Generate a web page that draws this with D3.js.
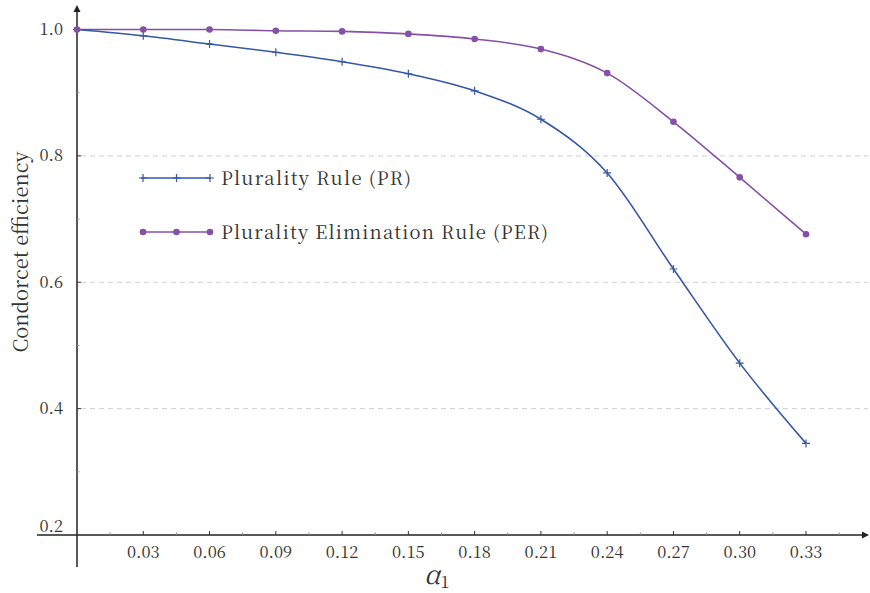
<!DOCTYPE html>
<html><head><meta charset="utf-8">
<script src="https://cdn.jsdelivr.net/npm/d3@7"></script>
<style>body{margin:0;background:#fff}svg{display:block}</style>
</head><body><svg id="c" width="870" height="593"></svg>
<script>
const alphas = [0, 0.03, 0.06, 0.09, 0.12, 0.15, 0.18, 0.21, 0.24, 0.27, 0.30, 0.33];
const prValues = [1.0, 0.990, 0.977, 0.964, 0.949, 0.930, 0.903, 0.858, 0.773, 0.621, 0.472, 0.345];
const perValues = [1.0, 1.0, 1.0, 0.998, 0.997, 0.993, 0.985, 0.969, 0.931, 0.854, 0.766, 0.676];
const xTicks = [0.03, 0.06, 0.09, 0.12, 0.15, 0.18, 0.21, 0.24, 0.27, 0.30, 0.33];
const xMinorTicks = [0.015, 0.045, 0.075, 0.105, 0.135, 0.165, 0.195, 0.225, 0.255, 0.285, 0.315, 0.345];
const yTicks = [0.2, 0.4, 0.6, 0.8, 1.0];
const yMinorTicks = [0.3, 0.5, 0.7, 0.9];
const seriesNames = ["Plurality Rule (PR)", "Plurality Elimination Rule (PER)"];

const blue = "#3557a8", purple = "#8550a6";
const FONT = '"Noto Serif CJK SC", "Liberation Serif", serif';
const svg = d3.select("#c");
const x = d3.scaleLinear().domain([0, 0.33]).range([77, 806]);
const y = d3.scaleLinear().domain([0.2, 1.0]).range([535, 29.5]);

// grid
svg.append("g").selectAll("line").data(yTicks.filter(d => d > 0.2 && d < 1.0)).join("line")
  .attr("x1", 81).attr("x2", 868).attr("y1", d => y(d)).attr("y2", d => y(d))
  .attr("stroke", "#d0d0d0").attr("stroke-dasharray", "5,4").attr("stroke-width", 1);

// x axis line
svg.append("line").attr("x1", 37).attr("x2", 864).attr("y1", y(0.2)).attr("y2", y(0.2))
  .attr("stroke", "#222").attr("stroke-width", 1.5);
svg.append("path").attr("d", `M869,${y(0.2)} L862,${y(0.2)-3.5} L862,${y(0.2)+3.5} Z`).attr("fill", "#222");
// y axis line
svg.append("line").attr("x1", x(0)).attr("x2", x(0)).attr("y1", 10).attr("y2", 567)
  .attr("stroke", "#222").attr("stroke-width", 1.5);
svg.append("path").attr("d", `M${x(0)},5 L${x(0)-3.5},12 L${x(0)+3.5},12 Z`).attr("fill", "#222");

// x ticks
svg.append("g").selectAll("line").data(xTicks).join("line")
  .attr("x1", d => x(d)).attr("x2", d => x(d)).attr("y1", y(0.2) - 4).attr("y2", y(0.2))
  .attr("stroke", "#333").attr("stroke-width", 1);
svg.append("g").selectAll("line").data(xMinorTicks).join("line")
  .attr("x1", d => x(d)).attr("x2", d => x(d)).attr("y1", y(0.2) - 2.5).attr("y2", y(0.2))
  .attr("stroke", "#888").attr("stroke-width", 1);
svg.append("g").selectAll("text").data(xTicks).join("text")
  .attr("x", d => x(d)).attr("y", y(0.2) + 23).attr("text-anchor", "middle")
  .style("font-family", FONT).attr("font-size", 16.5).attr("fill", "#333")
  .text(d => d.toFixed(2));

// y ticks
svg.append("g").selectAll("line").data(yTicks.filter(d => d > 0.2)).join("line")
  .attr("x1", x(0)).attr("x2", x(0) + 4).attr("y1", d => y(d)).attr("y2", d => y(d))
  .attr("stroke", "#333").attr("stroke-width", 1);
svg.append("g").selectAll("line").data(yMinorTicks).join("line")
  .attr("x1", x(0)).attr("x2", x(0) + 2.5).attr("y1", d => y(d)).attr("y2", d => y(d))
  .attr("stroke", "#999").attr("stroke-width", 1);
svg.append("g").selectAll("text").data(yTicks).join("text")
  .attr("x", 63).attr("y", d => d === 0.2 ? y(d) - 3 : y(d) + 5.5).attr("text-anchor", "end")
  .style("font-family", FONT).attr("font-size", 16.5).attr("fill", "#333")
  .text(d => d.toFixed(1));

// axis titles
svg.append("text").attr("transform", "translate(28,252) rotate(-90)").attr("text-anchor", "middle")
  .style("font-family", FONT).attr("font-size", 20).attr("fill", "#333").text("Condorcet efficiency");
const xl = svg.append("text").attr("x", 437).attr("y", 584).attr("text-anchor", "middle")
  .style("font-family", FONT).attr("fill", "#333");
xl.append("tspan").attr("font-style", "italic").attr("font-size", 26).text("α");
xl.append("tspan").attr("font-size", 17).attr("dy", 4).text("1");

// lines
const line = d3.line().x(d => x(d[0])).y(d => y(d[1])).curve(d3.curveMonotoneX);
const prData = alphas.map((a, i) => [a, prValues[i]]);
const perData = alphas.map((a, i) => [a, perValues[i]]);

svg.append("path").datum(perData).attr("d", line).attr("fill", "none").attr("stroke", purple).attr("stroke-width", 1.6);
svg.append("path").datum(prData).attr("d", line).attr("fill", "none").attr("stroke", blue).attr("stroke-width", 1.6);

function plus(g, cx, cy, col) {
  g.append("path").attr("d", `M${cx-4},${cy} H${cx+4} M${cx},${cy-4} V${cy+4}`)
    .attr("stroke", col).attr("stroke-width", 1.2).attr("fill", "none");
}
const pm = svg.append("g");
prData.forEach(d => plus(pm, x(d[0]), y(d[1]), blue));
svg.append("g").selectAll("circle").data(perData).join("circle")
  .attr("cx", d => x(d[0])).attr("cy", d => y(d[1])).attr("r", 3.3).attr("fill", purple);

// legend
const lg = svg.append("g");
lg.append("line").attr("x1", 141).attr("x2", 211).attr("y1", 178).attr("y2", 178).attr("stroke", blue).attr("stroke-width", 1.6);
[143, 176.5, 210].forEach(cx => plus(lg, cx, 178, blue));
lg.append("text").attr("x", 221).attr("y", 184.5).style("font-family", FONT).attr("font-size", 18.5).attr("fill", "#333")
  .attr("textLength", 190).attr("lengthAdjust", "spacing").text(seriesNames[0]);
lg.append("line").attr("x1", 143).attr("x2", 210).attr("y1", 232).attr("y2", 232).attr("stroke", purple).attr("stroke-width", 1.6);
[143, 176.5, 210].forEach(cx => lg.append("circle").attr("cx", cx).attr("cy", 232).attr("r", 3.3).attr("fill", purple));
lg.append("text").attr("x", 221).attr("y", 238.5).style("font-family", FONT).attr("font-size", 18.5).attr("fill", "#333")
  .attr("textLength", 327).attr("lengthAdjust", "spacing").text(seriesNames[1]);
</script></body></html>
